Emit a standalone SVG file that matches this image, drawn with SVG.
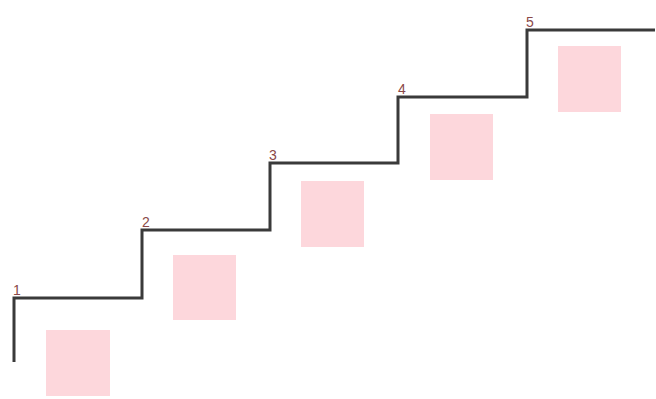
<svg xmlns="http://www.w3.org/2000/svg" width="656" height="399" viewBox="0 0 656 399">
<style>
.sq{fill:#fdd7dc;stroke:none}
.stair{fill:none;stroke:#3a3a3a;stroke-width:3;stroke-linejoin:miter}
.lb{font-family:"Liberation Sans",Arial,sans-serif;font-size:14px;fill:#8a4848}
</style>
<rect width="656" height="399" fill="#ffffff"/>
<g id="connectors">
<polyline class="stair" points="14,362 14,298 142,298 142,230 270,230 270,163 398,163 398,97 527,97 527,30 655,30"/>
</g>
<g id="step1"><rect class="sq" x="46" y="330" width="64" height="66"/><text class="lb" x="13" y="295">1</text></g>
<g id="step2"><rect class="sq" x="173" y="255" width="63" height="65"/><text class="lb" x="142" y="227">2</text></g>
<g id="step3"><rect class="sq" x="301" y="181" width="63" height="66"/><text class="lb" x="269" y="160">3</text></g>
<g id="step4"><rect class="sq" x="430" y="114" width="63" height="66"/><text class="lb" x="398" y="94">4</text></g>
<g id="step5"><rect class="sq" x="558" y="46" width="63" height="66"/><text class="lb" x="526" y="27">5</text></g>
</svg>
